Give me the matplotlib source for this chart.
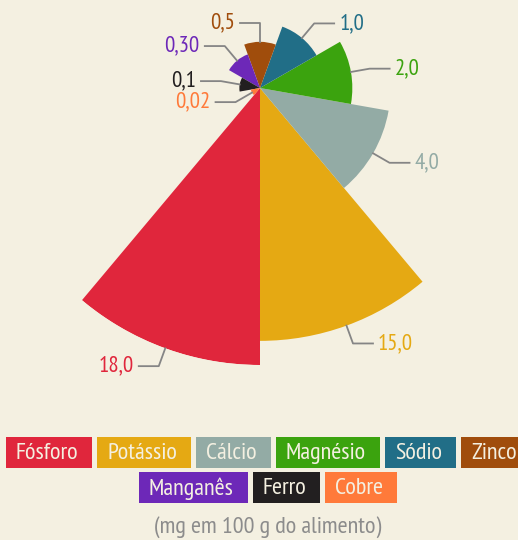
import matplotlib
matplotlib.use("Agg")
import matplotlib.pyplot as plt
import numpy as np
from matplotlib.lines import Line2D
from matplotlib.patches import Rectangle
from matplotlib.transforms import IdentityTransform

nutrients = ["Fósforo", "Potássio", "Cálcio", "Magnésio", "Sódio",
             "Zinco", "Manganês", "Ferro", "Cobre"]
values = [18.0, 15.0, 4.0, 2.0, 1.0, 0.5, 0.30, 0.1, 0.02]
value_labels = ["18,0", "15,0", "4,0", "2,0", "1,0", "0,5", "0,30", "0,1", "0,02"]
colors = ["#e0263c", "#e5a913", "#93aba5", "#3ba30e", "#216e87",
          "#a04d0c", "#6d28b8", "#221f20", "#ff7a3a"]
legend_rows = [nutrients[:6], nutrients[6:]]
unit_note = "(mg em 100 g do alimento)"

BG = "#f4f0e1"
plt.rcParams['font.family'] = ['PT Sans Narrow', 'Roboto Condensed',
                               'Liberation Sans Narrow', 'DejaVu Sans']

W, H = 518, 540
fig = plt.figure(figsize=(W / 100, H / 100), dpi=100, facecolor=BG)

# rose centre and outer radius, pixels from the top-left corner
cx, cy, R = 260, 88, 277
ax = fig.add_axes([(cx - R) / W, (H - cy - R) / H, 2 * R / W, 2 * R / H],
                  projection='polar')
ax.set_theta_zero_location('N')
ax.set_theta_direction(-1)
ax.axis('off')

step = 40
theta = np.deg2rad(200 - step * np.arange(len(values)))
radii = np.sqrt(values)
ax.bar(theta, radii, width=np.deg2rad(step), color=colors, linewidth=0)
ax.set_ylim(0, np.sqrt(max(values)))

fig.canvas.draw()
ident = IdentityTransform()

# leader lines and value labels
for t, r, lab, col in zip(theta, radii, value_labels, colors):
  p0 = ax.transData.transform((t, r))
  d = np.array([np.sin(t), np.cos(t)])
  p1 = p0 + 19 * d
  side = 1 if np.sin(t) > 1e-6 else -1
  p2 = p1 + np.array([20 * side, 0])
  fig.add_artist(Line2D([p0[0], p1[0], p2[0]], [p0[1], p1[1], p2[1]],
                        color="#858585", lw=1.3, transform=ident))
  fig.text(p2[0] + 5 * side, p2[1], lab, color=col, fontsize=16.5,
           ha='left' if side > 0 else 'right', va='center', transform=ident)

# legend boxes
renderer = fig.canvas.get_renderer()
col_of = dict(zip(nutrients, colors))
pad_l, pad_r, gap, box_h = 10, 14, 5, 31
row_tops = [437, 472]
center_x = 268
for row, top in zip(legend_rows, row_tops):
  texts = []
  widths = []
  for name in row:
    t = fig.text(0, 0, name, color=BG, fontsize=17.5, ha='left', va='center',
                 transform=ident, zorder=3)
    texts.append(t)
    widths.append(t.get_window_extent(renderer).width + pad_l + pad_r)
  total = sum(widths) + gap * (len(row) - 1)
  x = center_x - total / 2
  yc = H - (top + box_h / 2)
  for name, t, w in zip(row, texts, widths):
    fig.add_artist(Rectangle((x, yc - box_h / 2), w, box_h,
                             facecolor=col_of[name], lw=0, transform=ident,
                             zorder=2))
    t.set_position((x + pad_l, yc - 1))
    x += w + gap

fig.text(268 / W, 1 - 527 / H, unit_note, color="#8c8c8c", fontsize=17.5,
         ha='center', va='center')

fig.savefig("out.png", dpi=100, facecolor=BG)
